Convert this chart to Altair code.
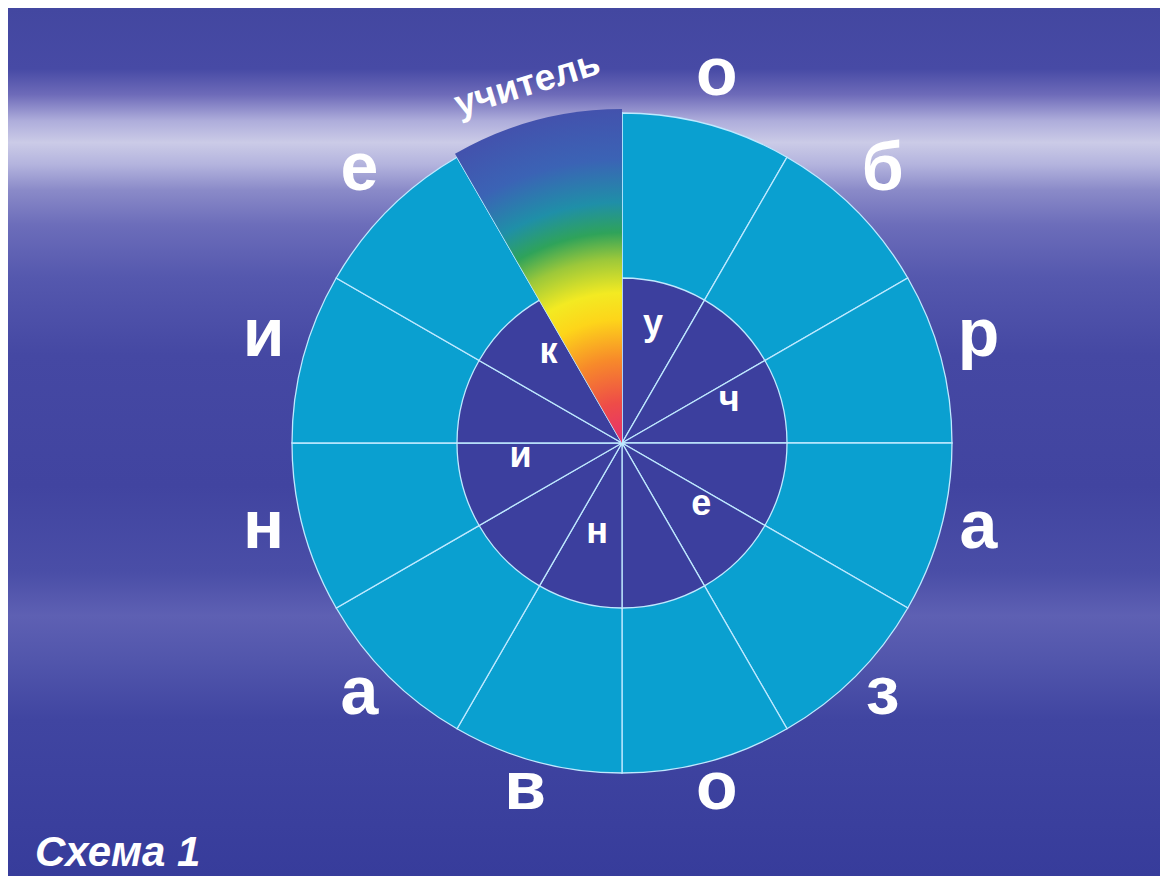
import altair as alt
import pandas as pd

# ---- data ----
sector_idx = [0, 1, 2, 3, 4, 5, 6, 7, 8, 9, 10, 11]
sector_share = [1, 1, 1, 1, 1, 1, 1, 1, 1, 1, 1, 1]
outer_letters = ["о", "б", "р", "а", "з", "о", "в", "а", "н", "и", "е", ""]
inner_letters = ["у", "", "ч", "", "е", "", "н", "", "и", "", "к", ""]
highlight_sector = [11]
highlight_label = ["учитель"]
caption = ["Схема 1"]

# ---- layout / style ----
W, H = 1152, 868
CX, CY = 614, 435            # centre of the rings
TX, TY = 613, 426            # centre of the outer lettering
IX, IY = 617, 422            # centre of the inner lettering
R_OUT, R_IN, R_HI = 330, 165, 334
R_LETTER, R_INNER_LETTER, R_LABEL = 370, 108, 362
RING = "#0aa0d0"
CORE = "#3c3f9e"
LINE = "#bfe9ff"
FONT = "Liberation Sans"

df = pd.DataFrame({"idx": sector_idx, "share": sector_share,
                   "outer": outer_letters, "inner": inner_letters})
df["end"] = df["share"].cumsum()
df["start"] = df["end"] - df["share"]
df["mid"] = (df["start"] + df["end"]) / 2
total = float(df["share"].sum())

tscale = alt.Scale(domain=[0, total])


def theta_arc():
    return dict(theta=alt.Theta("start:Q", stack=False, scale=tscale),
                theta2="end:Q",
                x=alt.value(CX), y=alt.value(CY))


def theta_mid(cx, cy):
    return dict(theta=alt.Theta("mid:Q", stack=False, scale=tscale),
                x=alt.value(cx), y=alt.value(cy))


# background sky
sky = alt.Gradient(
    gradient="linear", x1=0, y1=0, x2=0, y2=1,
    stops=[
        alt.GradientStop(offset=0.0, color="#4347a0"),
        alt.GradientStop(offset=0.07, color="#474aa5"),
        alt.GradientStop(offset=0.10, color="#6e6bb9"),
        alt.GradientStop(offset=0.13, color="#aeaddb"),
        alt.GradientStop(offset=0.155, color="#cbcbe7"),
        alt.GradientStop(offset=0.18, color="#b4b4de"),
        alt.GradientStop(offset=0.21, color="#8a8ac8"),
        alt.GradientStop(offset=0.25, color="#6c6dba"),
        alt.GradientStop(offset=0.31, color="#5558ae"),
        alt.GradientStop(offset=0.40, color="#4548a3"),
        alt.GradientStop(offset=0.55, color="#4144a0"),
        alt.GradientStop(offset=0.65, color="#4a4ea7"),
        alt.GradientStop(offset=0.70, color="#5e60b3"),
        alt.GradientStop(offset=0.75, color="#5256ac"),
        alt.GradientStop(offset=0.82, color="#4045a1"),
        alt.GradientStop(offset=1.0, color="#373c9b"),
    ],
)
bg = alt.Chart(pd.DataFrame({"k": [0]})).mark_rect(fill=sky).encode(
    x=alt.value(0), x2=alt.value(W), y=alt.value(0), y2=alt.value(H))

ring = alt.Chart(df).mark_arc(radius=R_OUT, fill=RING, stroke=LINE,
                              strokeWidth=1.3).encode(**theta_arc())
core = alt.Chart(df).mark_arc(radius=R_IN, fill=CORE, stroke=LINE,
                              strokeWidth=1.3).encode(**theta_arc())

rainbow = alt.Gradient(
    gradient="radial", x1=0.75, y1=1, r1=0, x2=0.75, y2=1, r2=1,
    stops=[
        alt.GradientStop(offset=0.0, color="#e6306f"),
        alt.GradientStop(offset=0.12, color="#ee4c48"),
        alt.GradientStop(offset=0.25, color="#f78a2a"),
        alt.GradientStop(offset=0.37, color="#fdd51a"),
        alt.GradientStop(offset=0.45, color="#f3ea22"),
        alt.GradientStop(offset=0.55, color="#9cc83a"),
        alt.GradientStop(offset=0.63, color="#2fa35a"),
        alt.GradientStop(offset=0.72, color="#1f8fa8"),
        alt.GradientStop(offset=0.85, color="#3b63b5"),
        alt.GradientStop(offset=1.0, color="#4352ad"),
    ],
)
hi = alt.Chart(df).transform_filter(
    alt.FieldOneOfPredicate(field="idx", oneOf=highlight_sector)
).mark_arc(radius=R_HI, fill=rainbow).encode(**theta_arc())

outer_txt = alt.Chart(df).mark_text(
    radius=R_LETTER, font=FONT, fontWeight="bold", fontSize=68,
    color="white", align="center", baseline="middle", dy=-2
).encode(text="outer:N", **theta_mid(TX, TY))

inner_txt = alt.Chart(df).mark_text(
    radius=R_INNER_LETTER, font=FONT, fontWeight="bold", fontSize=36,
    color="white", align="center", baseline="middle", dy=-2
).encode(text="inner:N", **theta_mid(IX, IY))

hi_df = df[df["idx"].isin(highlight_sector)].copy()
hi_df["label"] = highlight_label
label_txt = alt.Chart(hi_df).mark_text(
    radius=R_LABEL, font=FONT, fontWeight="bold", fontSize=37,
    color="white", align="center", baseline="middle", angle=343
).encode(text="label:N", **theta_mid(TX, TY))

cap = alt.Chart(pd.DataFrame({"t": caption})).mark_text(
    font=FONT, fontWeight="bold", fontStyle="italic", fontSize=42,
    color="white", align="left", baseline="alphabetic"
).encode(text="t:N", x=alt.value(27), y=alt.value(858))

chart = alt.layer(bg, ring, core, hi, outer_txt, inner_txt, label_txt, cap).properties(
    width=W, height=H, padding=0,
    autosize=alt.AutoSizeParams(type="none")
).configure_view(strokeWidth=0)

chart.save("out.html", embed_options={"renderer": "svg", "actions": False})
